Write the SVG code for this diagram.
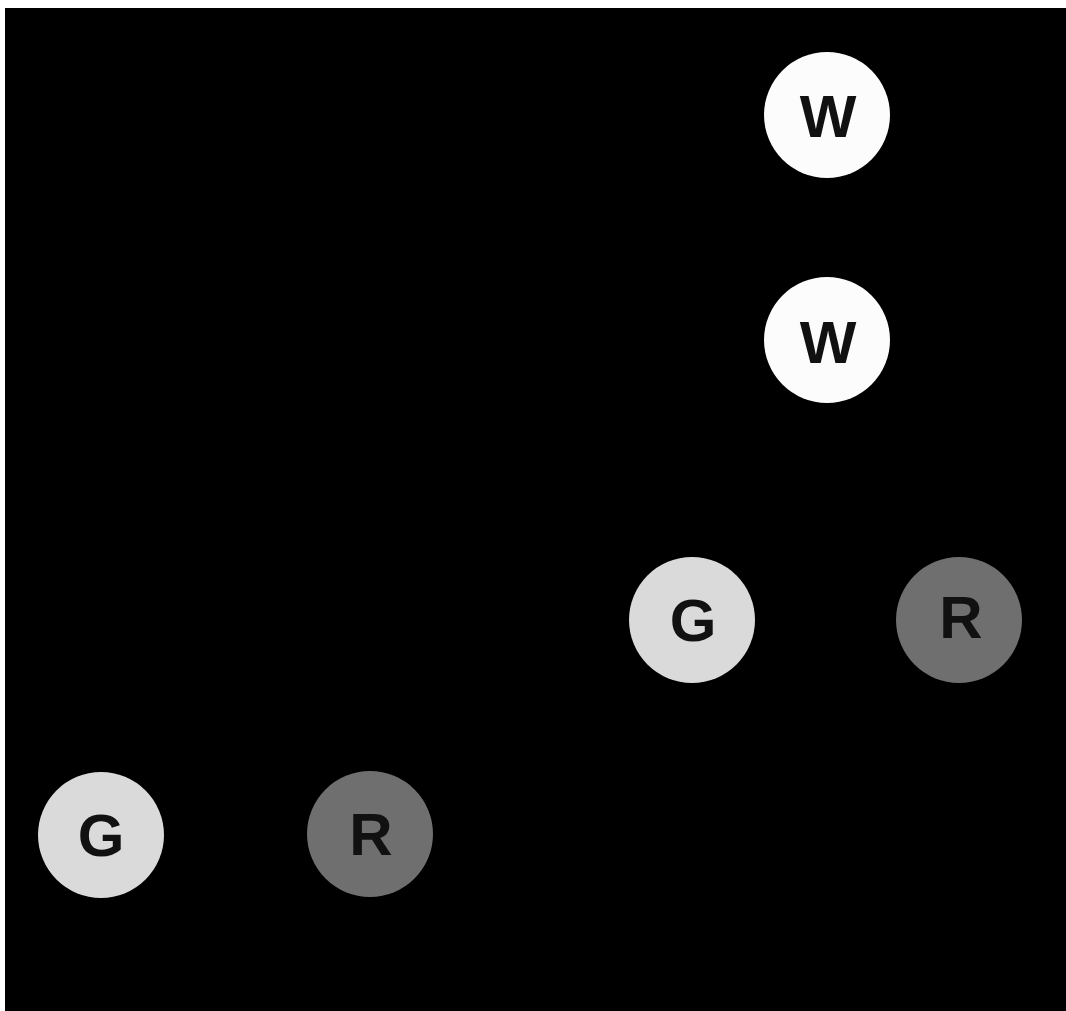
<svg xmlns="http://www.w3.org/2000/svg" width="1066" height="1011" viewBox="0 0 1066 1011">
<style>
.lbl{font-family:"Liberation Sans",Arial,sans-serif;font-weight:bold;font-size:60px;fill:#111;text-anchor:middle}
.w{fill:#fcfcfc}
.g{fill:#dadada}
.r{fill:#6f6f6f}
</style>
<rect x="0" y="0" width="1066" height="1011" fill="#ffffff"/>
<rect x="5" y="8" width="1061" height="1003" fill="#000000"/>
<g id="connectors"></g>
<g id="w1"><circle class="w" cx="827" cy="115" r="63"/><text class="lbl" x="828" y="137">W</text></g>
<g id="w2"><circle class="w" cx="827" cy="340" r="63"/><text class="lbl" x="828" y="363">W</text></g>
<g id="g1"><circle class="g" cx="692" cy="620" r="63"/><text class="lbl" x="693" y="641">G</text></g>
<g id="r1"><circle class="r" cx="959" cy="620" r="63"/><text class="lbl" x="961" y="638">R</text></g>
<g id="g2"><circle class="g" cx="101" cy="835" r="63"/><text class="lbl" x="101" y="856">G</text></g>
<g id="r2"><circle class="r" cx="370" cy="834" r="63"/><text class="lbl" x="371" y="855">R</text></g>
</svg>
